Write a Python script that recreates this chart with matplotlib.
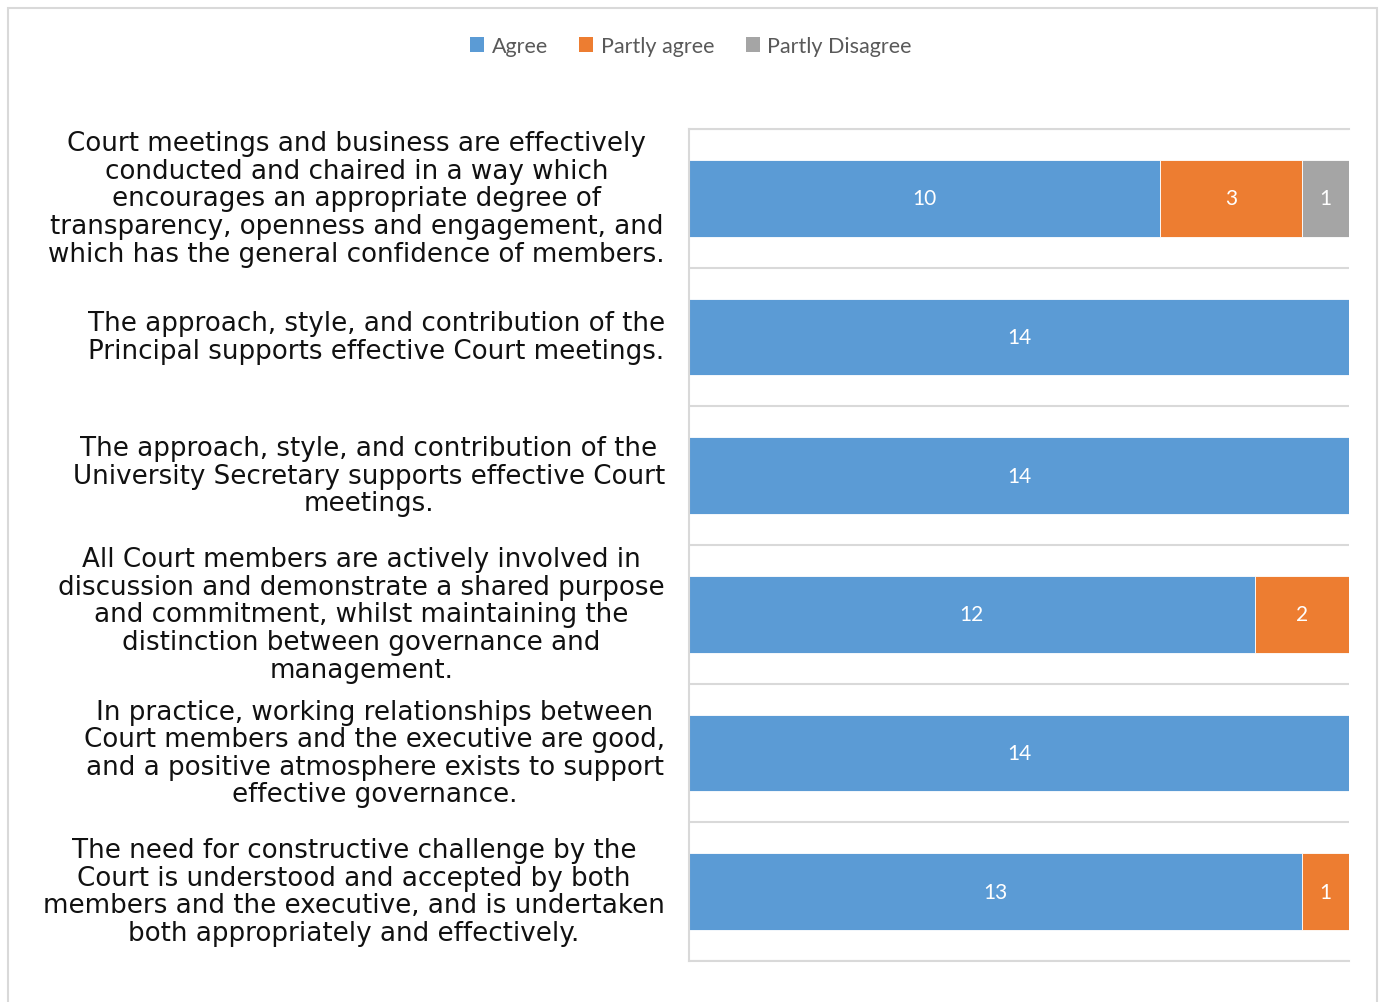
import numpy as np
import matplotlib
matplotlib.use('Agg')
import matplotlib.pyplot as plt
from matplotlib.patches import Rectangle, Patch

# Survey statements, top to bottom as shown
statements = [
    "Court meetings and business are effectively\nconducted and chaired in a way which\nencourages an appropriate degree of\ntransparency, openness and engagement, and\nwhich has the general confidence of members.",
    "The approach, style, and contribution of the\nPrincipal supports effective Court meetings.",
    "The approach, style, and contribution of the\nUniversity Secretary supports effective Court\nmeetings.",
    "All Court members are actively involved in\ndiscussion and demonstrate a shared purpose\nand commitment, whilst maintaining the\ndistinction between governance and\nmanagement.",
    "In practice, working relationships between\nCourt members and the executive are good,\nand a positive atmosphere exists to support\neffective governance.",
    "The need for constructive challenge by the\nCourt is understood and accepted by both\nmembers and the executive, and is undertaken\nboth appropriately and effectively.",
]
agree = [10, 14, 14, 12, 14, 13]
partly_agree = [3, 0, 0, 2, 0, 1]
partly_disagree = [1, 0, 0, 0, 0, 0]

series_names = ['Agree', 'Partly agree', 'Partly Disagree']
colors = ['#5B9BD5', '#ED7D31', '#A5A5A5']
grid_col = '#D9D9D9'

W, H = 1382, 1003
fig = plt.figure(figsize=(W / 100, H / 100), dpi=100)

# chart border
fig.patches.append(Rectangle((8 / W, -0.01), (1377 - 8) / W, 1 - 9 / H + 0.01,
                             transform=fig.transFigure, fill=False,
                             edgecolor=grid_col, linewidth=1.5))

ax = fig.add_axes([689 / W, 1 - 962 / H, (1349 - 689) / W, (962 - 130) / H])

y = np.arange(len(statements))
left = np.zeros(len(statements))
for vals, name, col in zip([agree, partly_agree, partly_disagree], series_names, colors):
    vals = np.array(vals, dtype=float)
    bars = ax.barh(y, vals, left=left, height=0.555, color=col,
                   edgecolor='white', linewidth=0.6, label=name)
    for b, v in zip(bars, vals):
        if v > 0:
            ax.text(b.get_x() + b.get_width() / 2, b.get_y() + b.get_height() / 2,
                    f'{int(v)}', ha='center', va='center', color='white',
                    fontsize=15, family='Lato')
    left += vals

ax.set_xlim(0, 14)
ax.set_ylim(len(statements) - 0.5, -0.5)
ax.set_xticks([])
ax.set_yticks([])

# horizontal lines at category boundaries
ax.set_yticks(np.arange(len(statements) + 1) - 0.5, minor=True)
ax.tick_params(axis='y', which='minor', length=0)
ax.grid(which='minor', axis='y', color=grid_col, linewidth=1.5)
for s in ['top', 'bottom', 'left']:
    ax.spines[s].set_color(grid_col)
    ax.spines[s].set_linewidth(1.5)
ax.spines['right'].set_visible(False)
ax.set_axisbelow(True)

for yi, txt in zip(y, statements):
    ax.annotate(txt, xy=(0, yi), xycoords=('axes fraction', 'data'),
                xytext=(-24, 0), textcoords='offset pixels',
                ha='right', va='center', multialignment='center',
                fontsize=18.8, family='DejaVu Sans', color='#111111',
                linespacing=1.08)

handles = [Patch(facecolor=c, edgecolor='none') for c in colors]
fig.legend(handles, series_names, loc='center', bbox_to_anchor=(0.5, 1 - 47 / H),
           ncol=3, frameon=False, prop={'family': 'Lato', 'size': 15.5},
           labelcolor='#595959', handlelength=0.65, handleheight=0.65,
           handletextpad=0.35, columnspacing=1.45)

fig.savefig('out.png', dpi=100)
